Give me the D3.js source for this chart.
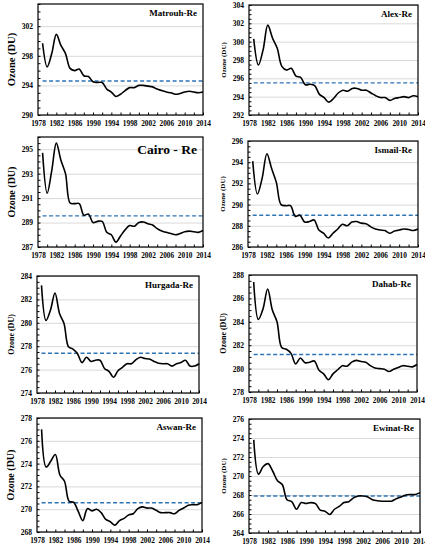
<!DOCTYPE html>
<html>
<head>
<meta charset="utf-8">
<script src="https://cdn.jsdelivr.net/npm/d3@7"></script>
<style>
  body { margin: 0; background: #fff; }
  text { font-family: "Liberation Serif", "Times New Roman", serif; font-weight: bold; }
</style>
</head>
<body>
<script>
// data (total ozone, DU)
var years = [1979, 1980, 1981, 1982, 1983, 1984, 1985, 1986, 1987, 1988, 1989, 1990,
  1991, 1992, 1993, 1994, 1995, 1996, 1997, 1998, 1999, 2000, 2001, 2002,
  2003, 2004, 2005, 2006, 2007, 2008, 2009, 2010, 2011, 2012, 2013, 2014];
var xTickLabels = [1978, 1982, 1986, 1990, 1994, 1998, 2002, 2006, 2010, 2014];

var matrouh = [299.7, 296.5, 298.3, 300.9, 299.4, 298.3, 296.3, 296.0, 296.2, 295.3, 295.2, 294.5,
  294.4, 294.4, 293.5, 293.1, 292.5, 292.8, 293.3, 293.7, 293.7, 294.0, 294.0, 293.9,
  293.8, 293.5, 293.3, 293.1, 293.0, 292.8, 292.9, 293.1, 293.2, 293.1, 293.0, 293.1];
var alex = [300.3, 297.45, 299.1, 301.8, 300.4, 299.3, 297.3, 296.9, 297.1, 296.25, 296.1, 295.3,
  295.35, 295.2, 294.25, 293.9, 293.4, 293.8, 294.4, 294.7, 294.6, 294.9, 294.9, 294.7,
  294.7, 294.4, 294.1, 293.9, 293.9, 293.6, 293.8, 293.9, 294.0, 293.9, 294.1, 294.0];
var cairo = [294.7, 291.4, 293.25, 295.5, 294.1, 293.0, 290.6, 290.55, 290.55, 289.6, 289.7, 289.0,
  289.1, 289.1, 288.2, 288.0, 287.4, 287.9, 288.4, 288.75, 288.7, 289.0, 289.05, 288.9,
  288.8, 288.5, 288.3, 288.2, 288.1, 288.0, 288.1, 288.25, 288.3, 288.25, 288.2, 288.35];
var ismail = [294.1, 291.0, 292.5, 294.8, 293.4, 292.1, 290.0, 289.9, 289.9, 288.9, 289.0, 288.35,
  288.4, 288.55, 287.6, 287.3, 286.85, 287.3, 287.7, 288.15, 288.0, 288.35, 288.4, 288.25,
  288.2, 287.9, 287.7, 287.6, 287.55, 287.3, 287.5, 287.6, 287.7, 287.65, 287.55, 287.7];
var hurgada = [283.2, 280.2, 281.1, 282.55, 280.8, 279.95, 277.95, 277.75, 277.35, 276.6, 277.05, 276.7,
  276.8, 276.8, 276.1, 275.85, 275.35, 275.9, 276.2, 276.5, 276.5, 276.85, 277.05, 276.95,
  276.9, 276.7, 276.55, 276.5, 276.5, 276.3, 276.5, 276.6, 276.8, 276.3, 276.3, 276.5];
var dahab = [287.4, 284.2, 285.1, 286.8, 285.0, 284.0, 281.8, 281.65, 281.3, 280.4, 280.9, 280.5,
  280.55, 280.65, 279.85, 279.55, 279.05, 279.55, 279.9, 280.25, 280.2, 280.55, 280.7, 280.6,
  280.55, 280.25, 280.05, 280.0, 279.95, 279.75, 279.95, 280.1, 280.25, 280.2, 280.15, 280.35];
var aswan = [277.0, 273.7, 274.2, 274.8, 273.0, 272.45, 270.7, 270.6, 269.8, 269.0, 270.05, 269.85,
  270.0, 269.7, 269.1, 268.9, 268.6, 269.0, 269.2, 269.5, 269.6, 270.05, 270.2, 270.1,
  270.1, 269.9, 269.7, 269.7, 269.7, 269.6, 269.9, 270.1, 270.35, 270.4, 270.4, 270.6];
var ewinat = [273.8, 270.2, 271.0, 271.3, 270.5, 269.5, 269.1, 267.5, 267.3, 266.5, 267.2, 267.1,
  267.2, 267.1, 266.4, 266.3, 265.95, 266.5, 266.8, 267.2, 267.3, 267.7, 267.9, 267.9,
  267.8, 267.5, 267.4, 267.35, 267.35, 267.35, 267.6, 267.8, 268.0, 268.05, 268.05, 268.25];

var stationNames = ['Matrouh-Re', 'Alex-Re', 'Cairo - Re', 'Ismail-Re', 'Hurgada-Re', 'Dahab-Re', 'Aswan-Re', 'Ewinat-Re'];
var stationSeries = [matrouh, alex, cairo, ismail, hurgada, dahab, aswan, ewinat];
var meanValues = [294.6, 295.5, 289.55, 289.0, 277.4, 281.2, 270.57, 267.9];
var yDomains = [[290, 305], [292, 304], [287, 296], [286, 296], [274, 284], [278, 288], [268, 278], [264, 276]];
var yMajorSteps = [4, 2, 2, 2, 2, 2, 2, 2];

// layout of each panel (pixel boxes of the plot areas)
var layout = [
  { x0: 38, x1: 203, y0: 4, y1: 115, titleSize: 10.5, nameSize: 9 },
  { x0: 249, x1: 418, y0: 5, y1: 115, titleSize: 7, nameSize: 9 },
  { x0: 38, x1: 203, y0: 137, y1: 247, titleSize: 10, nameSize: 13.5 },
  { x0: 248, x1: 418, y0: 141, y1: 247, titleSize: 7, nameSize: 9 },
  { x0: 37, x1: 199, y0: 276, y1: 393, titleSize: 8, nameSize: 9 },
  { x0: 249, x1: 417, y0: 275, y1: 392, titleSize: 8, nameSize: 9 },
  { x0: 37, x1: 202, y0: 418, y1: 532, titleSize: 10, nameSize: 9 },
  { x0: 249, x1: 420, y0: 419, y1: 533, titleSize: 7, nameSize: 9 }
];

var svg = d3.select('body').append('svg')
  .attr('width', 425)
  .attr('height', 548)
  .style('background', '#fff');

layout.forEach(function (p, i) {
  drawPanel(p, i);
});

function drawPanel(p, i) {
  var x = d3.scaleLinear().domain([1978, 2014]).range([p.x0, p.x1]);
  var y = d3.scaleLinear().domain(yDomains[i]).range([p.y1, p.y0]);
  var step = yMajorSteps[i];
  var ticks = d3.range(yDomains[i][0], yDomains[i][1] + 0.001, step);
  var minor = d3.range(yDomains[i][0], yDomains[i][1] + 0.001, step / 4);
  var g = svg.append('g');

  // gridlines
  g.append('g')
    .attr('transform', 'translate(' + p.x0 + ',0)')
    .call(d3.axisLeft(y).tickValues(ticks).tickSize(-(p.x1 - p.x0)).tickFormat(''))
    .call(function (a) {
      a.select('.domain').remove();
      a.selectAll('line').attr('stroke', '#d9d9d9').attr('stroke-width', 1);
    });

  // minor ticks, pointing inward
  g.append('g')
    .attr('transform', 'translate(' + p.x0 + ',0)')
    .call(d3.axisLeft(y).tickValues(minor).tickSize(-2.5).tickFormat(''))
    .call(function (a) {
      a.select('.domain').remove();
      a.selectAll('line').attr('stroke', '#000');
    });
  g.append('g')
    .attr('transform', 'translate(0,' + p.y1 + ')')
    .call(d3.axisBottom(x).tickValues(years.filter(function (d) { return d % 2 == 0; })).tickSize(-2.5).tickFormat(''))
    .call(function (a) {
      a.select('.domain').remove();
      a.selectAll('line').attr('stroke', '#000');
    });

  // mean value (dashed)
  g.append('line')
    .attr('x1', x(years[0]))
    .attr('x2', x(years[years.length - 1]))
    .attr('y1', y(meanValues[i]))
    .attr('y2', y(meanValues[i]))
    .attr('stroke', '#2e75b6')
    .attr('stroke-width', 1.4)
    .attr('stroke-dasharray', '4,2.5');

  // series line
  var line = d3.line()
    .x(function (d, k) { return x(years[k]); })
    .y(function (d) { return y(d); })
    .curve(d3.curveCatmullRom.alpha(0.5));
  g.append('path')
    .datum(stationSeries[i])
    .attr('d', line)
    .attr('fill', 'none')
    .attr('stroke', '#000')
    .attr('stroke-width', 1.6);

  // plot area border
  g.append('rect')
    .attr('x', p.x0)
    .attr('y', p.y0)
    .attr('width', p.x1 - p.x0)
    .attr('height', p.y1 - p.y0)
    .attr('fill', 'none')
    .attr('stroke', '#000')
    .attr('stroke-width', 1.2);

  // y tick labels
  g.append('g')
    .attr('transform', 'translate(' + p.x0 + ',0)')
    .call(d3.axisLeft(y).tickValues(ticks).tickSize(0).tickPadding(5).tickFormat(d3.format('d')))
    .call(function (a) {
      a.select('.domain').remove();
      a.selectAll('text')
        .style('font-family', '"Liberation Serif", serif')
        .style('font-weight', 'bold')
        .style('font-size', '7.5px')
        .attr('fill', '#000');
    });

  // x tick labels
  g.append('g')
    .attr('transform', 'translate(0,' + p.y1 + ')')
    .call(d3.axisBottom(x).tickValues(xTickLabels).tickSize(0).tickPadding(6).tickFormat(d3.format('d')))
    .call(function (a) {
      a.select('.domain').remove();
      a.selectAll('text')
        .style('font-family', '"Liberation Serif", serif')
        .style('font-weight', 'bold')
        .style('font-size', '7.3px')
        .attr('fill', '#000');
    });

  // axis title
  g.append('text')
    .attr('transform', 'translate(' + (p.x0 - 23) + ',' + (p.y0 + p.y1) / 2 + ') rotate(-90)')
    .attr('text-anchor', 'middle')
    .style('font-size', p.titleSize + 'px')
    .text('Ozone (DU)');

  // station name
  g.append('text')
    .attr('x', p.x1 - 6)
    .attr('y', p.y0 + p.nameSize + 3)
    .attr('text-anchor', 'end')
    .style('font-size', p.nameSize + 'px')
    .text(stationNames[i]);
}
</script>
</body>
</html>
